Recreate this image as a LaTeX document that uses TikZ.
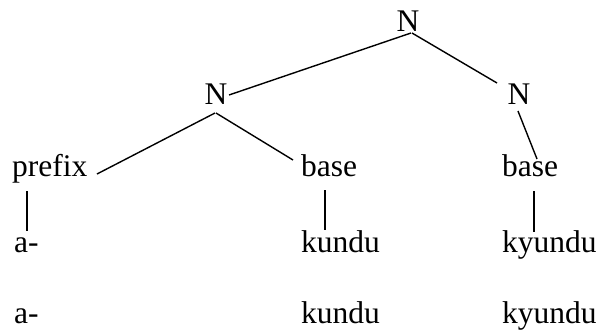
\documentclass[tikz,border=0pt]{standalone}
\usepackage{fontspec}
\setmainfont{Liberation Serif}
\usetikzlibrary{calc}
\tikzset{
  word/.style={anchor=base west, inner sep=0pt, font=\fontsize{31.5}{36}\selectfont},
  cat/.style={anchor=base, inner sep=0pt, font=\fontsize{31.5}{36}\selectfont},
  branch/.style={line width=1.4pt, line cap=butt},
}
\begin{document}
\begin{tikzpicture}[x=1pt, y=-1pt]
  \useasboundingbox (0,0) rectangle (598,330);

  % category labels
  \node[cat] (nT) at (408,31)  {N};
  \node[cat] (nL) at (216,104) {N};
  \node[cat] (nR) at (519,104) {N};

  % morpheme labels
  \node[word] (pre) at (12,176)  {prefix};
  \node[word] (bL)  at (301,176) {base};
  \node[word] (bR)  at (502,176) {base};

  % forms
  \node[word] (a1) at (14,252)  {a-};
  \node[word] (kL) at (301,252) {kundu};
  \node[word] (kR) at (502,252) {kyundu};

  % glosses
  \node[word] (a2) at (14,323)  {a-};
  \node[word] (gL) at (301,323) {kundu};
  \node[word] (gR) at (502,323) {kyundu};

  % branches
  \draw[branch] ($(nT.base)+(3,2)$) -- ($(nL.base)+(13,-9)$);
  \draw[branch] ($(nT.base)+(4,2)$) -- ($(nR.base)+(-22,-21)$);
  \draw[branch] ($(nL.base)+(-1,9)$) -- ($(pre.base west)+(85,-2)$);
  \draw[branch] ($(nL.base)+(0,9)$) -- ($(bL.base west)+(-8,-16)$);
  \draw[branch] ($(nR.base)+(-1,7)$) -- ($(bR.base west)+(35,-17)$);

  % vertical links
  \draw[branch] ($(pre.base west)+(15,15)$) -- ($(a1.base west)+(13,-21)$);
  \draw[branch] ($(bL.base west)+(24,14)$) -- ($(kL.base west)+(24,-22)$);
  \draw[branch] ($(bR.base west)+(32,15)$) -- ($(kR.base west)+(32,-20)$);
\end{tikzpicture}
\end{document}
